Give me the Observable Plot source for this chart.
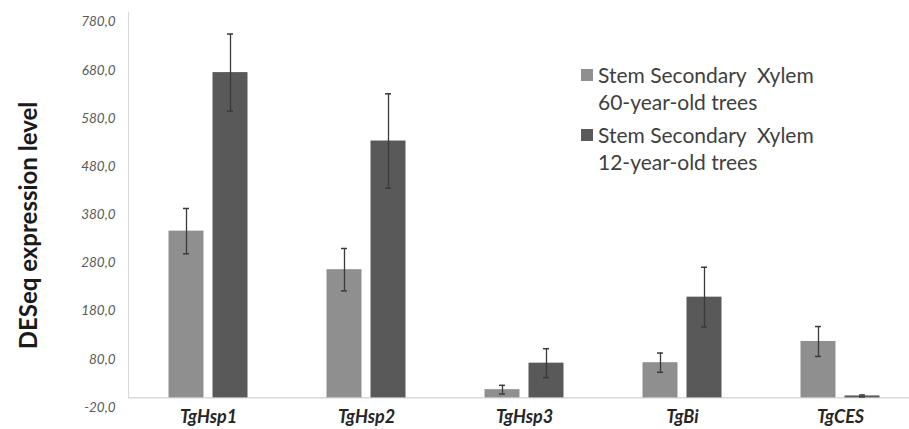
<!DOCTYPE html>
<html>
<head>
<meta charset="utf-8">
<script src="https://cdn.jsdelivr.net/npm/d3@7"></script>
<script src="https://cdn.jsdelivr.net/npm/@observablehq/plot@0.6"></script>
<style>
  html, body { margin: 0; padding: 0; background: #fff; }
  #wrap { position: relative; width: 909px; height: 429px; overflow: hidden; font-family: Lato, "Open Sans", sans-serif; }
  #legend { position: absolute; left: 581px; top: 61px; color: #404040; font-size: 21px; line-height: 27px; }
  .item { position: relative; padding-left: 17px; margin-bottom: 6px; }
  .sw { position: absolute; left: 0; top: 8px; width: 12px; height: 12px; }
</style>
</head>
<body>
<div id="wrap"><div id="legend"></div></div>
<script>
const categories = ["TgHsp1", "TgHsp2", "TgHsp3", "TgBi", "TgCES"];
const seriesNames = ["Stem Secondary  Xylem\n60-year-old trees", "Stem Secondary  Xylem\n12-year-old trees"];
const old60 = [346, 266, 17, 73, 117];
const old60Err = [47, 44, 9, 20, 31];
const young12 = [675, 533, 72, 209, 4];
const young12Err = [80, 98, 30, 62, 2];
const yTicks = [-20, 80, 180, 280, 380, 480, 580, 680, 780];
const colors = ["#8f8f8f", "#595959"];

const rows60 = categories.map((c, i) => ({category: c, series: seriesNames[0], value: old60[i], err: old60Err[i]}));
const rows12 = categories.map((c, i) => ({category: c, series: seriesNames[1], value: young12[i], err: young12Err[i]}));

const errMarks = (rows, dx) => [
  Plot.ruleX(rows, {x: "category", y1: d => d.value - d.err, y2: d => d.value + d.err, dx, stroke: "#3a3a3a", strokeWidth: 1.3}),
  Plot.tickY(rows, {x: "category", y: d => d.value + d.err, dx, insetLeft: 76, insetRight: 76, stroke: "#3a3a3a", strokeWidth: 1.5}),
  Plot.tickY(rows, {x: "category", y: d => d.value - d.err, dx, insetLeft: 76, insetRight: 76, stroke: "#3a3a3a", strokeWidth: 1.5})
];

const chart = Plot.plot({
  width: 909,
  height: 429,
  marginLeft: 128,
  marginRight: 0,
  marginTop: 0,
  marginBottom: 31,
  style: {fontFamily: "Lato, 'Open Sans', sans-serif", background: "#fff"},
  x: {domain: categories, range: [129, 919], padding: 0},
  y: {domain: [-20, 780], range: [407, 21.5]},
  color: {domain: seriesNames, range: colors},
  marks: [
    Plot.ruleY([0], {stroke: "#d9d9d9", strokeWidth: 1.5}),
    Plot.ruleX([categories[0]], {y1: 0, y2: 800, dx: -80, stroke: "#d9d9d9", strokeWidth: 1}),
    Plot.barY(rows60, {x: "category", y: "value", fill: "series", insetLeft: 39.5, insetRight: 83.5}),
    Plot.barY(rows12, {x: "category", y: "value", fill: "series", insetLeft: 83.5, insetRight: 39.5}),
    ...errMarks(rows60, -22),
    ...errMarks(rows12, 22),
    Plot.axisY({ticks: yTicks, tickSize: 0, tickPadding: 13, tickFormat: d => d.toFixed(1).replace(".", ","),
      fontStyle: "italic", fontSize: 13.5, fill: "#595959", label: null}),
    Plot.axisX({tickSize: 0, tickPadding: 12, fontSize: 18, fontWeight: "bold", fontStyle: "italic", fill: "#262626", label: null}),
    Plot.text(["DESeq expression level"], {frameAnchor: "left", textAnchor: "middle", dx: -99, dy: 26, rotate: -90, fontSize: 24, fontWeight: "bold", fill: "#1a1a1a"})
  ]
});
document.getElementById("wrap").prepend(chart);

const legend = document.getElementById("legend");
seriesNames.forEach((name, i) => {
  const item = document.createElement("div");
  item.className = "item";
  const sw = document.createElement("span");
  sw.className = "sw";
  sw.style.background = colors[i];
  item.appendChild(sw);
  name.split("\n").forEach(line => {
    const l = document.createElement("div");
    l.textContent = line;
    l.style.whiteSpace = "pre";
    item.appendChild(l);
  });
  legend.appendChild(item);
});
</script>
</body>
</html>
